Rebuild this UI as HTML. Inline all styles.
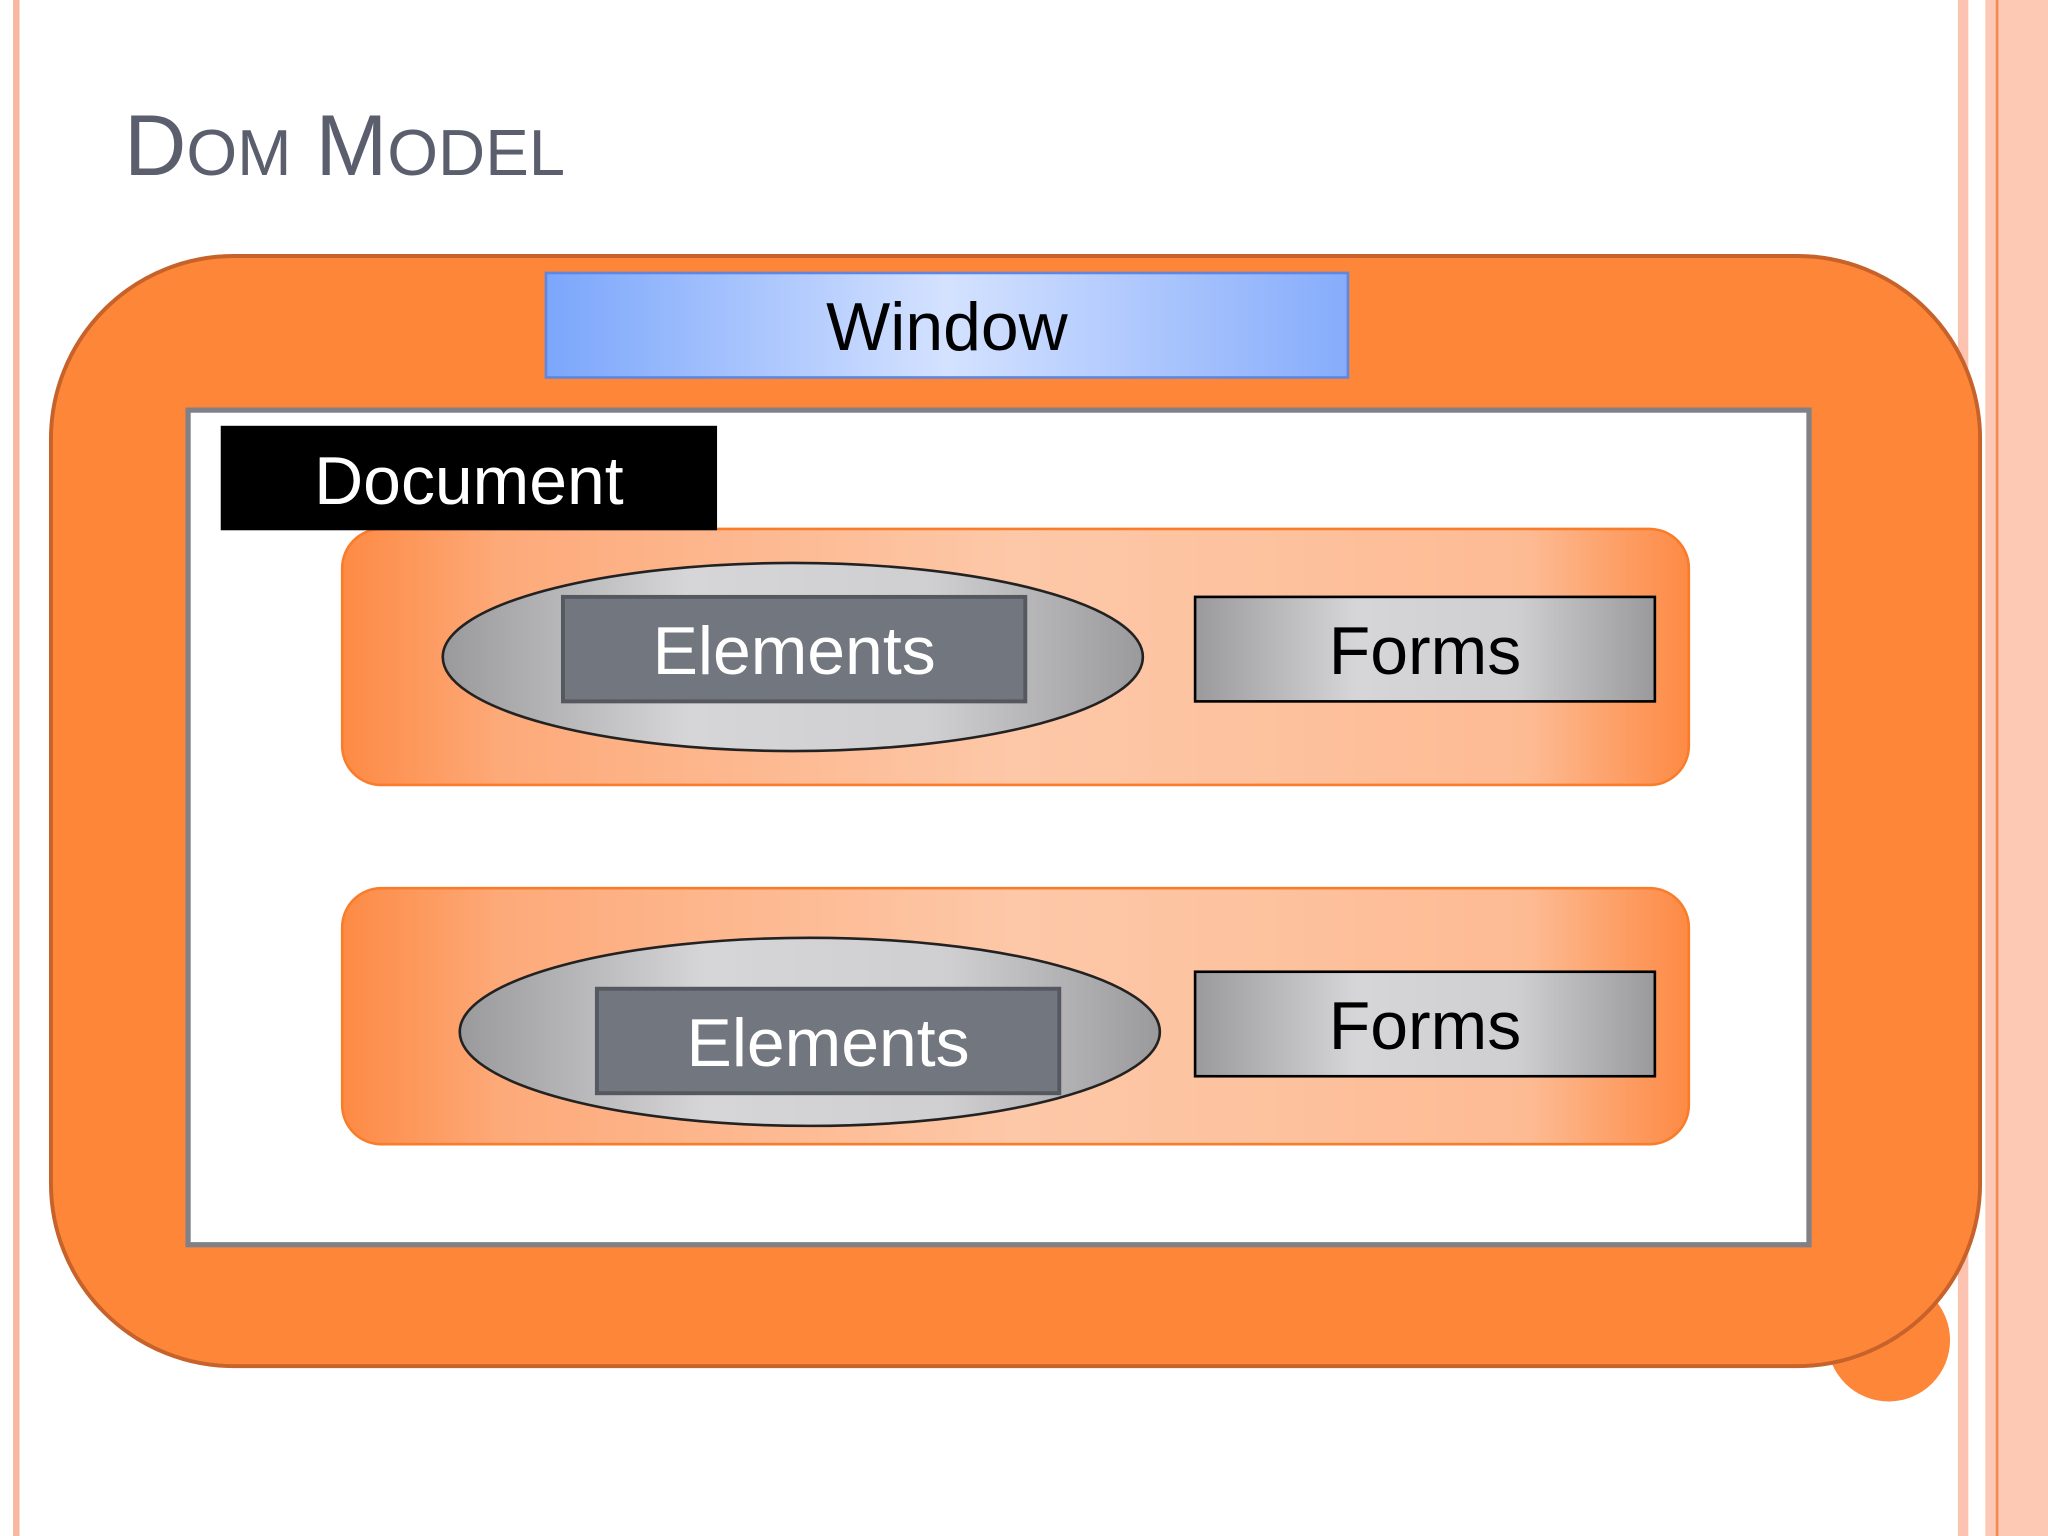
<!DOCTYPE html>
<html><head><style>
html,body{margin:0;padding:0;background:#fff;}
svg{display:block;}
text{font-family:"Liberation Sans",sans-serif;}
</style></head><body>
<svg width="2048" height="1536" viewBox="0 0 1568 1176" xmlns="http://www.w3.org/2000/svg">
<defs>
<linearGradient id="blue" x1="0" x2="1" y1="0" y2="0">
<stop offset="0" stop-color="#7ba6fb"/><stop offset="0.5" stop-color="#d4e2ff"/><stop offset="1" stop-color="#86acfb"/>
</linearGradient>
<linearGradient id="band" x1="0" x2="1" y1="0" y2="0">
<stop offset="0" stop-color="#fd8a44"/><stop offset="0.12" stop-color="#fdaa7a"/><stop offset="0.5" stop-color="#fdc8a8"/><stop offset="0.88" stop-color="#fdbb94"/><stop offset="1" stop-color="#fd8a44"/>
</linearGradient>
<linearGradient id="gray" x1="0" x2="1" y1="0" y2="0">
<stop offset="0" stop-color="#9a9a9c"/><stop offset="0.35" stop-color="#d6d6d8"/><stop offset="0.7" stop-color="#cfcfd1"/><stop offset="1" stop-color="#9a9a9c"/>
</linearGradient>
</defs>
<rect x="0" y="0" width="1568" height="1176" fill="#fff"/>
<rect x="10" y="0" width="5" height="1176" fill="#f8b8a0"/>
<rect x="1499" y="0" width="8" height="1176" fill="#fcc4b0"/>
<rect x="1520" y="0" width="48" height="1176" fill="#fdc8b4"/>
<rect x="1528" y="0" width="2" height="1176" fill="#f58a50"/>
<text x="95" y="134" fill="#5a5e6d" font-size="66">D<tspan font-size="50">OM</tspan> M<tspan font-size="50">ODEL</tspan></text>
<circle cx="1446" cy="1026" r="47" fill="#fd8638"/>
<rect x="39" y="196" width="1477" height="850" rx="140" fill="#fd8638" stroke="#c6622a" stroke-width="3"/>
<rect x="418" y="209" width="614" height="80" fill="url(#blue)" stroke="#5f86e0" stroke-width="2"/>
<text x="725" y="268" fill="#000" font-size="52" text-anchor="middle">Window</text>
<rect x="144" y="314" width="1241" height="639" fill="#fff" stroke="#808088" stroke-width="4"/>
<rect x="262" y="405" width="1031" height="196" rx="30" fill="url(#band)" stroke="#f97c2a" stroke-width="2"/>
<rect x="262" y="680" width="1031" height="196" rx="30" fill="url(#band)" stroke="#f97c2a" stroke-width="2"/>
<rect x="169" y="326" width="380" height="80" fill="#000"/>
<text x="359" y="386" fill="#fff" font-size="52" text-anchor="middle">Document</text>
<ellipse cx="607" cy="503" rx="268" ry="72" fill="url(#gray)" stroke="#222" stroke-width="2"/>
<rect x="431" y="457" width="354" height="80" fill="#72767e" stroke="#55585f" stroke-width="3"/>
<text x="608" y="516" fill="#fff" font-size="52" text-anchor="middle">Elements</text>
<rect x="915" y="457" width="352" height="80" fill="url(#gray)" stroke="#000" stroke-width="2"/>
<text x="1091" y="516" fill="#000" font-size="52" text-anchor="middle">Forms</text>
<ellipse cx="620" cy="790" rx="268" ry="72" fill="url(#gray)" stroke="#222" stroke-width="2"/>
<rect x="457" y="757" width="354" height="80" fill="#72767e" stroke="#55585f" stroke-width="3"/>
<text x="634" y="816" fill="#fff" font-size="52" text-anchor="middle">Elements</text>
<rect x="915" y="744" width="352" height="80" fill="url(#gray)" stroke="#000" stroke-width="2"/>
<text x="1091" y="803" fill="#000" font-size="52" text-anchor="middle">Forms</text>
</svg>
</body></html>
